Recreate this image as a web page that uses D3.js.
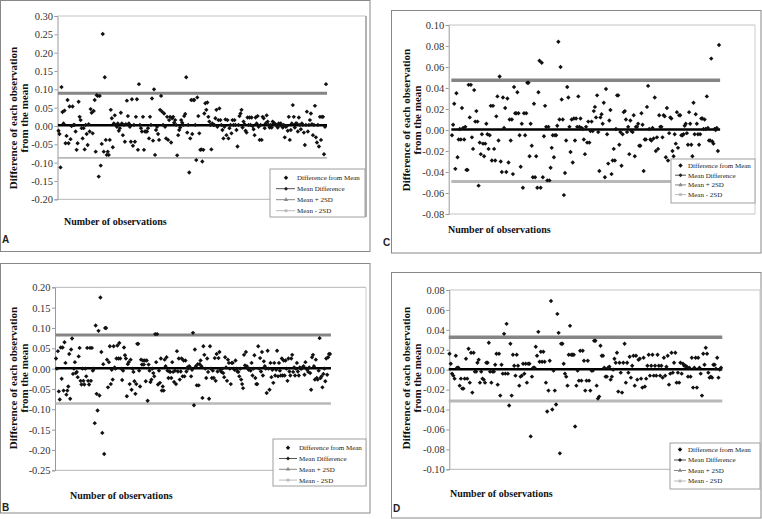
<!DOCTYPE html>
<html><head><meta charset="utf-8">
<script src="https://cdn.jsdelivr.net/npm/d3@7"></script>
<style>
body{margin:0;background:#fff;}
svg{display:block;}
</style></head><body>
<svg id="chart" width="762" height="519"></svg>
<script>
// ---------------- data ----------------
const legendLabels = ["Difference from Mean", "Mean Difference", "Mean + 2SD", "Mean - 2SD"];
const yTitleLines = ["Difference of each observation", "from the mean"];
const xTitle = "Number of observations";

const aTicks = [0.30, 0.25, 0.20, 0.15, 0.10, 0.05, 0.00, -0.05, -0.10, -0.15, -0.20];
const bTicks = [0.20, 0.15, 0.10, 0.05, 0.00, -0.05, -0.10, -0.15, -0.20, -0.25];
const cTicks = [0.10, 0.08, 0.06, 0.04, 0.02, 0.00, -0.02, -0.04, -0.06, -0.08];
const dTicks = [0.08, 0.06, 0.04, 0.02, 0.00, -0.02, -0.04, -0.06, -0.08, -0.10];

// [mean, mean + 2SD, mean - 2SD]
const aLines = [0.002, 0.089, -0.087];
const bLines = [0.001, 0.083, -0.086];
const cLines = [0.0005, 0.0475, -0.049];
const dLines = [0.0005, 0.0325, -0.0315];

const aValues = [-0.013,-0.022,-0.113,0.106,0.038,0.007,0.042,-0.047,-0.027,0.071,-0.047,0.053,-0.036,0,0.053,0.003,0.003,-0.015,-0.065,-0.047,0.066,0.025,0.016,-0.006,-0.034,-0.006,-0.064,0.003,-0.022,-0.052,0.005,-0.015,0.046,0.036,-0.02,0.041,0.071,-0.07,0.084,0.082,-0.138,0.082,-0.108,-0.049,0.251,-0.07,0.133,-0.038,-0.079,-0.07,-0.079,-0.038,0.044,0.021,-0.058,0.007,0.029,0.003,-0.002,0.007,-0.013,-0.006,0.036,0.007,-0.025,0.003,-0.043,0.005,0.069,0.027,0.007,-0.002,-0.043,0.073,-0.054,0.003,-0.043,0.025,0.073,-0.065,0.114,0.003,-0.006,-0.015,0.025,-0.065,-0.015,-0.015,-0.015,-0.006,-0.034,0.025,0.003,0.075,-0.04,0.1,-0.079,-0.011,-0.002,-0.022,-0.038,0.044,0.082,0.039,0.003,0.034,-0.002,-0.034,0.025,-0.038,0.016,0.025,-0.045,0.021,0.025,0.009,0.016,0.003,-0.08,-0.025,-0.011,-0.004,0.016,0.009,0.003,0.027,0.033,0.133,-0.018,0.003,-0.127,-0.034,0.071,-0.022,0.071,0.071,0.003,-0.093,0.078,0.027,-0.02,-0.065,
-0.064,-0.097,-0.065,0.034,0.062,0.044,0.064,0.025,0.012,0.003,-0.064,0.007,0.003,0.003,0.021,0.044,-0.002,0.016,0.048,0.016,0.003,-0.011,-0.034,-0.002,0.018,-0.025,0.016,-0.034,-0.006,0.003,-0.02,0.016,0.003,0.016,0.003,-0.011,-0.056,0.003,0.027,0.034,0.044,-0.004,0.012,0.005,-0.013,-0.018,0.023,0.003,0.023,0.003,0.023,0,-0.009,-0.025,0.023,0.007,0.027,-0.002,-0.038,0.003,-0.038,0.025,0.021,-0.006,0.007,0.029,0.012,0.003,-0.004,0.003,-0.004,0.012,0.007,0.007,0.003,0.003,-0.004,0.007,0.003,0.007,0,-0.004,0.003,-0.031,-0.002,0,-0.013,0.025,-0.038,-0.011,0.007,0.057,0.025,-0.004,0.007,0.007,-0.015,0.023,0.003,-0.009,0.007,0.003,-0.018,-0.052,0.003,0.039,-0.015,0.003,0.016,0.034,0.005,-0.025,0.003,0.055,-0.031,-0.045,0.003,-0.056,0.025,-0.038,0.025,0.025,-0.077,-0.002,0.114];

const bValues = [0.025,0,0.043,-0.056,-0.076,0.052,-0.025,0.052,-0.054,0.065,0.014,-0.064,-0.054,-0.044,0.036,-0.074,0.047,0.074,-0.013,0,0.016,-0.011,-0.008,-0.021,0.030,0.051,-0.030,-0.039,0,-0.030,-0.039,0,-0.019,0.051,-0.030,-0.039,0.051,-0.030,0.051,-0.005,0,-0.134,0.106,-0.062,-0.103,0.093,-0.066,0.175,0.041,-0.158,0.011,-0.210,0.100,0.100,0.022,-0.046,0.016,0.055,-0.038,-0.003,-0.027,0.055,0.003,0,0.025,0.057,0.025,0.063,0.025,0,-0.028,-0.005,0.052,0.033,0.025,-0.068,0.011,0.016,-0.038,0.022,-0.052,0,-0.008,-0.031,-0.062,-0.038,0.061,0.061,-0.005,-0.044,0.022,0.010,0.020,0.010,0.020,-0.031,0.020,-0.079,0.010,-0.005,-0.033,-0.027,0,-0.011,-0.019,0.085,0.016,0.085,-0.039,-0.005,-0.035,0.025,-0.054,-0.044,-0.054,0.022,0.006,0.028,-0.005,-0.023,-0.007,-0.008,-0.023,0.016,-0.008,-0.033,-0.005,-0.038,0.043,-0.007,0.025,-0.027,-0.007,0.025,-0.019,0.020,-0.019,0.020,-0.007,0.003,0,0.006,0.003,-0.019,-0.003,0.088,-0.090,0.047,0.006,-0.041,0.011,-0.041,0.011,0.020,0.006,-0.072,0.055,
0.034,0,-0.023,0.025,-0.008,-0.074,0.055,0,-0.023,-0.005,-0.023,0.026,-0.030,0.036,-0.007,0.026,0.041,-0.003,-0.008,0,-0.011,-0.021,0.028,0.003,-0.030,0.022,0.014,0,-0.038,0.014,0.014,0,-0.003,0.020,0,-0.007,-0.008,-0.019,0,-0.027,-0.038,-0.048,0.034,0.008,0.041,0.006,0,-0.003,0,-0.005,0.014,-0.017,0,0.033,-0.023,-0.038,-0.038,0.055,0,0.026,-0.007,0.041,-0.017,0.018,0.006,0,-0.060,0.044,0,-0.052,0.014,-0.021,-0.003,-0.035,0.014,-0.017,-0.003,0.044,-0.019,0.014,-0.005,-0.017,0.025,-0.017,0.020,-0.017,0.020,0,-0.030,0.025,-0.007,-0.017,0.025,0.034,-0.008,0.003,-0.017,0,0.014,-0.007,-0.017,0.003,0,0,0.003,0.006,-0.015,0.016,0,-0.003,-0.008,0.003,-0.011,-0.052,0.028,0.034,0.006,-0.027,0.022,-0.023,-0.027,-0.005,0.075,-0.023,-0.019,-0.046,-0.013,0,-0.031,0.025,-0.015,0.028,0.036,0.036];

const cValues = [-0.005,0.005,0.025,-0.037,0.035,-0.026,-0.009,0.001,-0.009,0.021,0.002,-0.009,0.003,-0.038,-0.038,0.043,0.012,0.043,-0.007,-0.018,0.038,0.008,0.018,0.008,-0.053,-0.012,-0.023,-0.004,-0.013,-0.025,-0.013,0.006,-0.004,-0.018,-0.005,0.023,-0.029,0.023,-0.018,-0.029,0.013,0.032,-0.010,0.051,-0.030,-0.040,0.031,0.002,0.021,-0.040,0.030,-0.031,0.010,-0.010,0.010,-0.042,0.041,0.016,0.016,0.036,0.016,-0.005,-0.035,0.006,-0.055,0.016,-0.005,0.016,0.045,0.045,-0.025,0.006,-0.015,-0.045,0.025,-0.045,-0.025,-0.055,0.036,0.066,-0.055,0.064,-0.045,-0.006,0.023,0.003,-0.048,0.003,-0.048,-0.036,-0.017,-0.005,-0.026,-0.005,-0.005,0.004,0.084,0.010,0.060,0.029,0.010,-0.062,-0.041,-0.010,0.041,0.031,0.003,-0.021,0.010,-0.031,0.011,-0.010,0.011,0.003,0.032,0.003,0.011,0.002,0.001,-0.009,-0.023,0.003,-0.012,0.008,-0.012,-0.001,0.008,-0.001,0.018,0.022,0.012,0.033,-0.002,-0.039,0.012,0.015,0.006,
0.026,-0.045,0.039,-0.004,-0.032,0.009,0.019,-0.042,-0.029,-0.018,-0.029,0.001,0.033,0.033,-0.014,-0.002,-0.034,-0.004,0.017,0.018,0.010,-0.002,0.003,-0.023,0.009,-0.001,-0.002,0.014,-0.025,0.003,0.003,0.006,-0.015,-0.015,0.016,0.005,-0.039,-0.009,-0.009,0.022,0.042,0.001,-0.009,-0.010,0.002,-0.008,0.031,-0.020,-0.007,-0.018,0.014,0.003,0.003,-0.007,0.014,0.013,-0.026,0.021,-0.029,-0.003,0.012,0.011,-0.020,-0.025,-0.004,-0.013,0.017,-0.017,0.014,0.014,-0.005,-0.005,-0.004,0.004,0.006,-0.003,-0.014,0.017,0.006,-0.014,-0.025,0.026,-0.004,0.015,0.006,-0.004,-0.014,-0.004,0.011,0.011,0.001,0.010,0.001,0.032,0.002,-0.010,-0.010,0.068,-0.011,-0.013,0.001,0,0.002,-0.020,0.081];

const dValues = [0.016,0.006,-0.004,-0.006,-0.009,0.014,0.002,0.002,-0.016,-0.009,-0.019,-0.019,-0.009,0.011,-0.009,0.021,-0.013,0.017,-0.023,0.017,-0.002,-0.002,0.007,0.010,-0.013,-0.002,-0.009,-0.010,-0.013,0.007,0.007,0.027,-0.002,-0.013,-0.002,-0.002,0.005,0.016,-0.015,0.016,-0.026,0.005,-0.004,0.036,-0.004,0.046,-0.004,-0.036,0.026,-0.026,0.015,0.004,-0.006,0.015,0.004,-0.016,-0.007,-0.006,0.006,-0.004,0.006,-0.013,0.006,0.006,-0.067,-0.007,0.002,0.002,0.023,0.014,0.038,0.008,0.018,0.008,0.018,0.008,-0.013,-0.042,-0.021,0.009,0.069,-0.040,-0.001,-0.021,-0.035,0.056,0.037,-0.084,0.026,0.026,0.006,-0.004,-0.007,-0.016,0.015,0.044,0.015,0.015,0.015,-0.057,-0.016,-0.001,-0.011,0.019,-0.011,0.019,0.009,-0.021,-0.011,0.009,-0.011,-0.021,-0.001,-0.001,0.029,0.029,-0.016,-0.029,-0.027,0.024,0.014,0.014,0.002,-0.007,-0.007,0.002,0.003,-0.010,-0.007,0,0.011,0.007,0.017,-0.022,0.007,-0.003,-0.023,0.007,0.026,-0.013,0.007,-0.003,0.013,-0.008,0.004,0.014,-0.016,0.014,-0.010,0.010,0.011,-0.009,-0.018,0.012,-0.017,-0.009,0.004,0.015,-0.006,0.004,0.015,-0.006,0.004,-0.006,0.015,0.004,-0.006,0.004,-0.008,0.012,-0.006,0.003,0.014,-0.015,-0.004,0.017,-0.003,0.007,0.017,-0.013,-0.003,-0.013,0.007,-0.004,0.006,0.004,0.004,0.003,-0.007,0.002,-0.007,0.012,-0.018,0.002,0.012,-0.018,0.012,0.002,-0.004,-0.026,0.016,0.005,0.022,0.016,-0.003,-0.008,-0.007,-0.008,0.005,0.005,0.001,0.012,-0.008,0,0.002];

// ---------------- layout ----------------
const panels = [
  {letter:"A", values:aValues, lines:aLines, ticks:aTicks,
   frame:[0.5,0.5,370,251.5], yPix:[199.3,16], axisX:57.5, plotRight:366, dataX:[58.5,326],
   legend:[270,169,95,48], row0:8.7, rowStep:11, lineX:[6,25], markX:16, textX:27,
   letterPos:[2,243], yTitleX:[16.8,27.8], yTitleY:118, xTitlePos:[64,225],
   upperW:3, lowerW:1.6, rightStroke:"#999", rightW:1.5},
  {letter:"B", values:bValues, lines:bLines, ticks:bTicks,
   frame:[0.5,263.5,370,513], yPix:[470.3,287.3], axisX:55, plotRight:366, dataX:[56,330],
   legend:[273,439,93,47], row0:8.7, rowStep:10.8, lineX:[6,24], markX:15, textX:26,
   letterPos:[2,511], yTitleX:[16.8,27.8], yTitleY:378, xTitlePos:[70,499],
   upperW:3, lowerW:2.5, rightStroke:"#ccc", rightW:1},
  {letter:"C", values:cValues, lines:cLines, ticks:cTicks,
   frame:[391.5,10.5,761,253], yPix:[214,25], axisX:448.7, plotRight:755, dataX:[452,719],
   legend:[671,159,84,44], row0:6.5, rowStep:9.7, lineX:[4,15], markX:9.5, textX:17,
   letterPos:[383,246], yTitleX:[409.8,420.8], yTitleY:120, xTitlePos:[448,233],
   upperW:3.5, lowerW:3, rightStroke:"#ccc", rightW:1},
  {letter:"D", values:dValues, lines:dLines, ticks:dTicks,
   frame:[391.5,272.5,761,518], yPix:[469.3,290], axisX:449.3, plotRight:760, dataX:[449.5,721],
   legend:[670,443,90,46], row0:6.5, rowStep:10.5, lineX:[4,16], markX:10, textX:18,
   letterPos:[393,512], yTitleX:[409.8,420.8], yTitleY:378, xTitlePos:[450,497],
   upperW:3.5, lowerW:3, rightStroke:"#ccc", rightW:1}
];

const svg = d3.select("#chart");
const serif = "Liberation Serif, Times New Roman, serif";
const sans = "Liberation Sans, Arial, sans-serif";
const marker = d3.symbol().type(d3.symbolSquare).size(9.5);
const lineColors = ["#000", "#858585", "#b8b8b8"];

panels.forEach(p => {
  const g = svg.append("g");
  const [fx0, fy0, fx1, fy1] = p.frame;
  g.append("rect").attr("x", fx0).attr("y", fy0).attr("width", fx1 - fx0).attr("height", fy1 - fy0)
    .attr("fill", "#fff").attr("stroke", "#888").attr("stroke-width", 1);

  const y = d3.scaleLinear().domain([d3.min(p.ticks), d3.max(p.ticks)]).range(p.yPix);
  const x = d3.scaleLinear().domain([0, p.values.length - 1]).range(p.dataX);
  const yTop = y(d3.max(p.ticks)), yBot = y(d3.min(p.ticks));
  const legBottom = p.legend[1] + p.legend[3];

  // plot borders
  g.append("line").attr("x1", p.axisX).attr("x2", p.plotRight).attr("y1", yTop).attr("y2", yTop)
    .attr("stroke", "#c4c4c4").attr("stroke-width", 1.2);
  g.append("line").attr("x1", p.axisX).attr("x2", p.plotRight).attr("y1", yBot).attr("y2", yBot)
    .attr("stroke", "#c4c4c4").attr("stroke-width", 1.2);
  g.append("line").attr("x1", p.plotRight).attr("x2", p.plotRight).attr("y1", yTop)
    .attr("y2", Math.max(yBot, legBottom))
    .attr("stroke", p.rightStroke).attr("stroke-width", p.rightW);

  // y axis
  const ax = g.append("g").attr("transform", `translate(${p.axisX},0)`)
    .call(d3.axisLeft(y).tickValues(p.ticks).tickSize(3).tickPadding(1.5)
      .tickFormat(d => d.toFixed(2)));
  ax.select(".domain").attr("stroke", "#9a9a9a");
  ax.selectAll(".tick line").attr("stroke", "#9a9a9a");
  ax.selectAll(".tick text").attr("font-family", serif).attr("font-size", 10.5).attr("fill", "#333");

  // reference lines
  const ln = d3.line().x(d => x(d[0])).y(d => y(d[1]));
  const order = [1, 2, 0];
  const widths = [2.6, p.upperW, p.lowerW];
  order.forEach(i => {
    const v = p.lines[i];
    g.append("path").datum([[-0.6, v], [p.values.length - 1 + 1, v]])
      .attr("d", ln).attr("fill", "none").attr("stroke", lineColors[i]).attr("stroke-width", widths[i]);
  });

  // points (diamond = square rotated 45deg)
  g.append("g").selectAll("path").data(p.values).join("path")
    .attr("transform", (d, i) => `translate(${x(i)},${y(d)}) rotate(45)`)
    .attr("d", marker).attr("fill", "#111");

  // legend
  const [lx, ly, lw, lh] = p.legend;
  const lg = g.append("g");
  lg.append("rect").attr("x", lx).attr("y", ly).attr("width", lw).attr("height", lh)
    .attr("fill", "#fff").attr("stroke", "#a0a0a0").attr("stroke-width", 1);
  const legLine = ["none", "#555", "#888", "#bbb"];
  const legMark = ["#111", "#222", "#888", "#bbb"];
  legendLabels.forEach((t, i) => {
    const ry = ly + p.row0 + i * p.rowStep;
    if (i > 0) {
      lg.append("line").attr("x1", lx + p.lineX[0]).attr("x2", lx + p.lineX[1]).attr("y1", ry).attr("y2", ry)
        .attr("stroke", legLine[i]).attr("stroke-width", 1);
    }
    const sym = [d3.symbolSquare, d3.symbolSquare, d3.symbolTriangle, d3.symbolSquare][i];
    const rot = i < 2 ? " rotate(45)" : "";
    lg.append("path").attr("transform", `translate(${lx + p.markX},${ry})${rot}`)
      .attr("d", d3.symbol().type(sym).size(i === 0 ? 10 : 8)).attr("fill", legMark[i]);
    lg.append("text").attr("x", lx + p.textX).attr("y", ry + 2.4).text(t)
      .attr("font-family", serif).attr("font-size", 7).attr("fill", "#222");
  });

  // titles
  yTitleLines.forEach((t, i) => {
    g.append("text").attr("transform", `translate(${p.yTitleX[i]},${p.yTitleY}) rotate(-90)`)
      .attr("text-anchor", "middle").attr("font-family", serif).attr("font-weight", "bold")
      .attr("font-size", 11).attr("fill", "#111").text(t);
  });
  g.append("text").attr("x", p.xTitlePos[0]).attr("y", p.xTitlePos[1])
    .attr("font-family", serif).attr("font-weight", "bold").attr("font-size", 10)
    .attr("fill", "#111").text(xTitle);
  g.append("text").attr("x", p.letterPos[0]).attr("y", p.letterPos[1])
    .attr("font-family", sans).attr("font-weight", "bold").attr("font-size", 10)
    .attr("fill", "#222").text(p.letter);
});
</script>
</body></html>
